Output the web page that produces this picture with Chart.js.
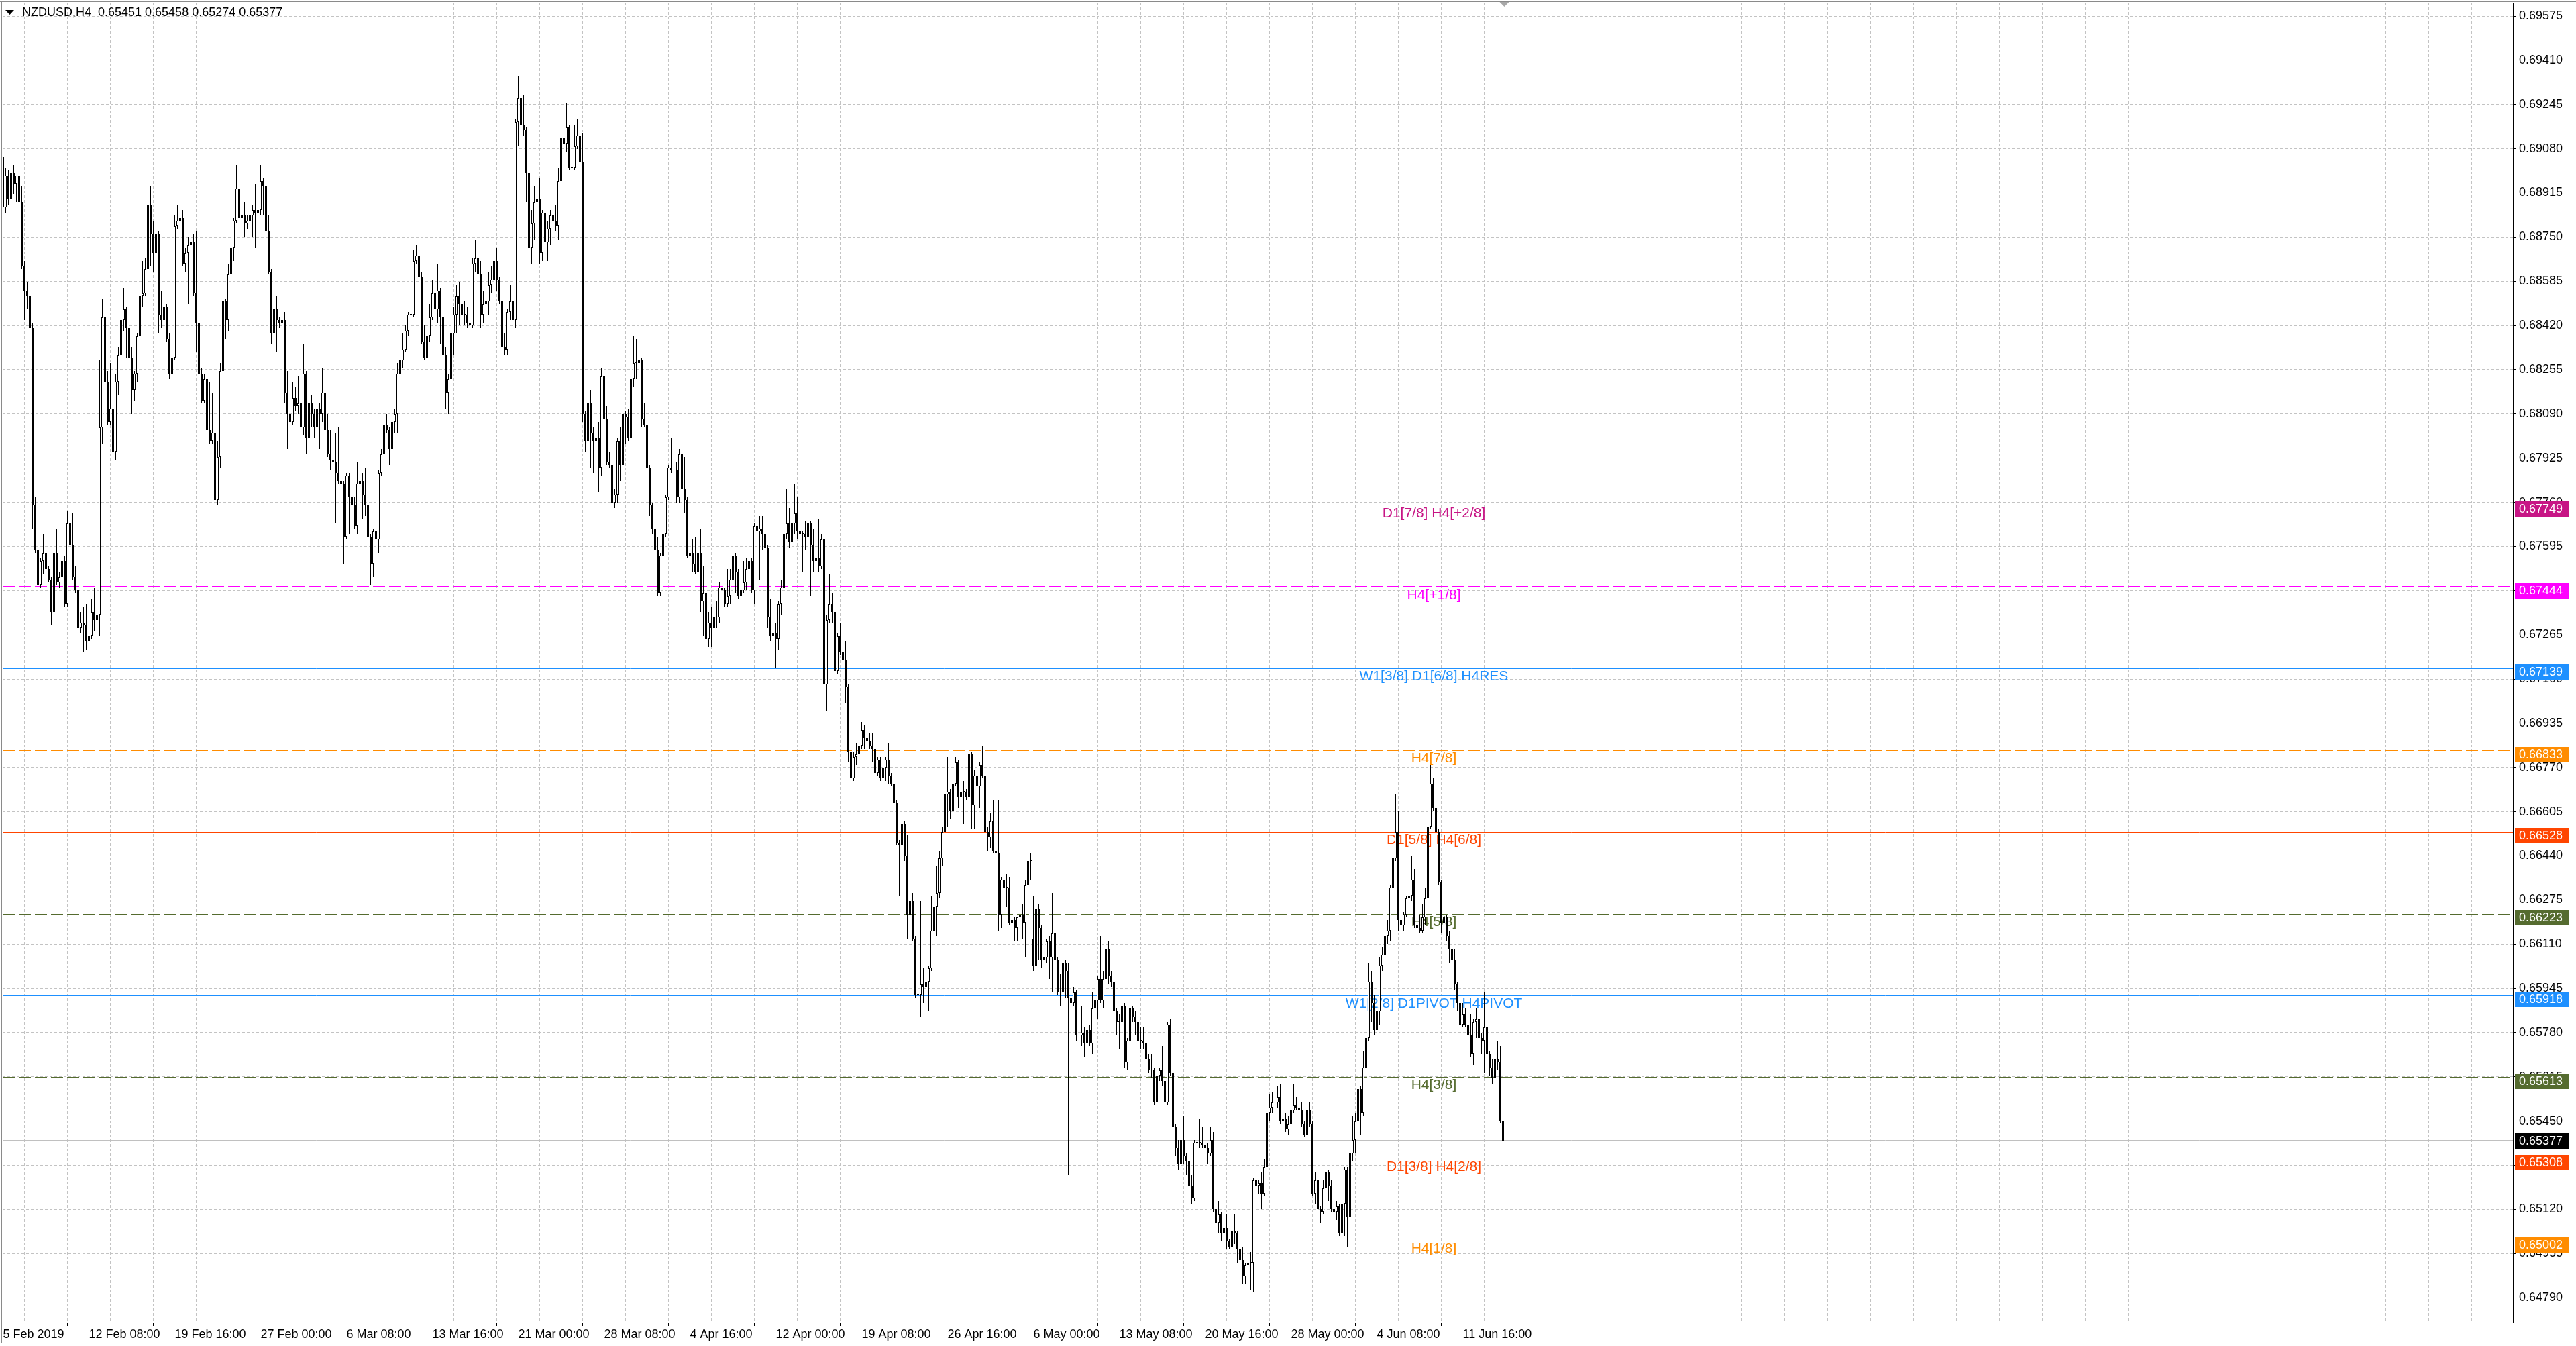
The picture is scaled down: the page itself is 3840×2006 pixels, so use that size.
<!DOCTYPE html>
<html>
<head>
<meta charset="utf-8">
<title>NZDUSD,H4</title>
<script src="https://cdn.jsdelivr.net/npm/chart.js@4.4.1/dist/chart.umd.min.js"></script>
<style>
  html, body { margin: 0; padding: 0; background: #fff; }
  #chart { display: block; width: 3840px; height: 2006px; }
</style>
</head>
<body>
<canvas id="chart" width="3840" height="2006"></canvas>
<script>
(() => {
  'use strict'

  const symbolName = 'NZDUSD'
  const periodName = 'H4'

  // H4 candles (first bar = 5 Feb 2019 00:00)
  const opens = [
    0.6905,0.6886,0.6898,0.6889,0.6899,0.6895,0.6898,0.6888,0.6864,0.6855,0.6853,0.6841,0.6775,0.6758,0.6745,0.6754,0.6757,0.6751,0.6747,0.6735,
    0.6757,0.6746,0.6748,0.6754,0.6738,0.6768,0.6760,0.6748,0.6743,0.6729,0.6731,0.6730,0.6724,0.6726,0.6735,0.6732,0.6734,0.6804,0.6845,0.6821,
    0.6806,0.6811,0.6795,0.6821,0.6831,0.6844,0.6848,0.6841,0.6830,0.6818,0.6824,0.6838,0.6853,0.6854,0.6863,0.6887,0.6876,0.6869,0.6876,0.6846,
    0.6844,0.6849,0.6837,0.6824,0.6830,0.6879,0.6881,0.6882,0.6865,0.6869,0.6872,0.6873,0.6854,0.6843,0.6824,0.6814,0.6822,0.6803,0.6799,0.6802,
    0.6777,0.6793,0.6825,0.6851,0.6844,0.6861,0.6871,0.6881,0.6893,0.6882,0.6883,0.6880,0.6881,0.6883,0.6885,0.6884,0.6885,0.6896,0.6894,0.6877,
    0.6862,0.6839,0.6848,0.6844,0.6843,0.6844,0.6817,0.6809,0.6806,0.6815,0.6812,0.6813,0.6804,0.6824,0.6800,0.6813,0.6809,0.6804,0.6811,0.6809,
    0.6817,0.6803,0.6794,0.6792,0.6791,0.6787,0.6784,0.6783,0.6763,0.6786,0.6778,0.6775,0.6767,0.6783,0.6784,0.6779,0.6775,0.6763,0.6753,0.6765,
    0.6762,0.6787,0.6794,0.6805,0.6803,0.6796,0.6806,0.6809,0.6824,0.6829,0.6833,0.6840,0.6846,0.6846,0.6866,0.6868,0.6860,0.6836,0.6830,0.6838,
    0.6845,0.6854,0.6848,0.6855,0.6845,0.6831,0.6817,0.6822,0.6839,0.6846,0.6853,0.6850,0.6846,0.6846,0.6843,0.6842,0.6865,0.6867,0.6861,0.6846,
    0.6850,0.6851,0.6857,0.6859,0.6866,0.6859,0.6851,0.6834,0.6833,0.6847,0.6851,0.6844,0.6918,0.6927,0.6917,0.6915,0.6899,0.6871,0.6880,0.6888,
    0.6889,0.6869,0.6884,0.6873,0.6878,0.6883,0.6881,0.6879,0.6896,0.6912,0.6910,0.6916,0.6901,0.6901,0.6909,0.6913,0.6903,0.6809,0.6799,0.6813,
    0.6802,0.6799,0.6800,0.6789,0.6823,0.6807,0.6791,0.6790,0.6776,0.6779,0.6799,0.6790,0.6809,0.6808,0.6800,0.6822,0.6828,0.6828,0.6829,0.6807,
    0.6805,0.6789,0.6775,0.6766,0.6758,0.6742,0.6756,0.6764,0.6778,0.6789,0.6788,0.6788,0.6778,0.6794,0.6781,0.6777,0.6756,0.6757,0.6753,0.6750,
    0.6757,0.6739,0.6742,0.6725,0.6731,0.6729,0.6733,0.6733,0.6744,0.6743,0.6738,0.6741,0.6747,0.6756,0.6750,0.6741,0.6743,0.6746,0.6751,0.6754,
    0.6743,0.6767,0.6765,0.6766,0.6764,0.6759,0.6733,0.6726,0.6727,0.6725,0.6738,0.6744,0.6764,0.6768,0.6761,0.6768,0.6772,0.6765,0.6764,0.6764,
    0.6763,0.6768,0.6760,0.6754,0.6755,0.6752,0.6762,0.6708,0.6732,0.6738,0.6735,0.6713,0.6726,0.6720,0.6717,0.6707,0.6683,0.6673,0.6681,0.6682,
    0.6685,0.6691,0.6688,0.6687,0.6685,0.6684,0.6675,0.6680,0.6673,0.6677,0.6680,0.6674,0.6671,0.6664,0.6649,0.6648,0.6656,0.6644,0.6622,0.6627,
    0.6613,0.6592,0.6592,0.6596,0.6595,0.6597,0.6602,0.6616,0.6625,0.6630,0.6643,0.6653,0.6667,0.6668,0.6661,0.6671,0.6679,0.6666,0.6668,0.6668,
    0.6666,0.6682,0.6663,0.6674,0.6670,0.6678,0.6674,0.6653,0.6651,0.6657,0.6646,0.6645,0.6622,0.6635,0.6632,0.6632,0.6619,0.6620,0.6617,0.6621,
    0.6622,0.6619,0.6633,0.6642,0.6613,0.6603,0.6624,0.6617,0.6605,0.6606,0.6612,0.6606,0.6615,0.6605,0.6593,0.6593,0.6604,0.6601,0.6591,0.6589,
    0.6593,0.6577,0.6577,0.6578,0.6574,0.6579,0.6574,0.6587,0.6590,0.6598,0.6590,0.6598,0.6609,0.6599,0.6597,0.6586,0.6582,0.6582,0.6588,0.6567,
    0.6575,0.6587,0.6584,0.6582,0.6575,0.6575,0.6574,0.6568,0.6564,0.6564,0.6552,0.6562,0.6564,0.6560,0.6552,0.6581,0.6563,0.6543,0.6535,0.6529,
    0.6538,0.6532,0.6530,0.6521,0.6516,0.6537,0.6537,0.6537,0.6536,0.6535,0.6533,0.6538,0.6512,0.6507,0.6510,0.6503,0.6505,0.6500,0.6498,0.6504,
    0.6503,0.6497,0.6493,0.6487,0.6491,0.6492,0.6492,0.6523,0.6521,0.6522,0.6518,0.6528,0.6548,0.6550,0.6552,0.6552,0.6554,0.6545,0.6546,0.6542,
    0.6544,0.6549,0.6551,0.6550,0.6549,0.6544,0.6540,0.6549,0.6544,0.6518,0.6523,0.6512,0.6511,0.6520,0.6526,0.6521,0.6512,0.6511,0.6513,0.6503,
    0.6514,0.6527,0.6509,0.6533,0.6538,0.6545,0.6557,0.6548,0.6565,0.6576,0.6597,0.6589,0.6579,0.6586,0.6603,0.6607,0.6614,0.6616,0.6632,0.6643,
    0.6653,0.6620,0.6618,0.6622,0.6628,0.6629,0.6635,0.6618,0.6617,0.6616,0.6621,0.6628,0.6655,0.6671,0.6662,0.6653,0.6634,0.6619,0.6621,0.6614,
    0.6609,0.6605,0.6596,0.6589,0.6581,0.6585,0.6581,0.6577,0.6570,0.6582,0.6583,0.6576,0.6575,0.6580,0.6570,0.6565,0.6561,0.6568,0.6567,0.65451
  ]
  const highs = [
    0.6906,0.6901,0.6900,0.6906,0.6902,0.6898,0.6905,0.6894,0.6866,0.6858,0.6858,0.6843,0.6778,0.6759,0.6755,0.6764,0.6772,0.6752,0.6748,0.6758,
    0.6766,0.6750,0.6758,0.6756,0.6773,0.6772,0.6772,0.6752,0.6744,0.6735,0.6737,0.6738,0.6730,0.6740,0.6744,0.6738,0.6829,0.6852,0.6846,0.6825,
    0.6828,0.6813,0.6824,0.6834,0.6845,0.6856,0.6849,0.6842,0.6834,0.6825,0.6839,0.6860,0.6866,0.6867,0.6888,0.6894,0.6881,0.6877,0.6877,0.6855,
    0.6861,0.6850,0.6839,0.6832,0.6883,0.6887,0.6885,0.6885,0.6871,0.6875,0.6875,0.6876,0.6877,0.6844,0.6826,0.6824,0.6824,0.6821,0.6817,0.6810,
    0.6799,0.6828,0.6854,0.6852,0.6865,0.6881,0.6882,0.6902,0.6897,0.6888,0.6888,0.6883,0.6890,0.6887,0.6895,0.6903,0.6902,0.6897,0.6896,0.6883,
    0.6863,0.6850,0.6853,0.6845,0.6852,0.6847,0.6825,0.6818,0.6821,0.6819,0.6823,0.6839,0.6835,0.6825,0.6828,0.6816,0.6811,0.6812,0.6813,0.6826,
    0.6826,0.6809,0.6803,0.6794,0.6802,0.6804,0.6786,0.6784,0.6787,0.6787,0.6781,0.6778,0.6791,0.6789,0.6787,0.6789,0.6776,0.6764,0.6766,0.6779,
    0.6788,0.6796,0.6809,0.6809,0.6804,0.6814,0.6811,0.6828,0.6835,0.6839,0.6842,0.6847,0.6849,0.6870,0.6872,0.6872,0.6862,0.6842,0.6846,0.6850,
    0.6859,0.6858,0.6865,0.6856,0.6846,0.6834,0.6824,0.6840,0.6849,0.6857,0.6858,0.6858,0.6851,0.6849,0.6852,0.6867,0.6874,0.6871,0.6866,0.6855,
    0.6859,0.6862,0.6864,0.6870,0.6871,0.6860,0.6856,0.6839,0.6848,0.6857,0.6856,0.6919,0.6935,0.6938,0.6928,0.6916,0.6900,0.6885,0.6894,0.6892,
    0.6897,0.6885,0.6893,0.6881,0.6885,0.6884,0.6887,0.6901,0.6918,0.6918,0.6925,0.6917,0.6910,0.6917,0.6919,0.6919,0.6914,0.6810,0.6818,0.6818,
    0.6804,0.6808,0.6806,0.6826,0.6828,0.6812,0.6795,0.6794,0.6781,0.6800,0.6804,0.6812,0.6810,0.6811,0.6825,0.6838,0.6837,0.6836,0.6830,0.6813,
    0.6806,0.6790,0.6776,0.6767,0.6763,0.6757,0.6769,0.6779,0.6790,0.6800,0.6796,0.6791,0.6796,0.6798,0.6793,0.6778,0.6763,0.6762,0.6763,0.6758,
    0.6766,0.6752,0.6746,0.6735,0.6737,0.6737,0.6739,0.6746,0.6754,0.6744,0.6751,0.6751,0.6758,0.6757,0.6751,0.6749,0.6754,0.6755,0.6755,0.6755,
    0.6768,0.6774,0.6771,0.6771,0.6768,0.6760,0.6740,0.6732,0.6731,0.6739,0.6747,0.6765,0.6781,0.6774,0.6773,0.6783,0.6778,0.6768,0.6765,0.6769,
    0.6769,0.6769,0.6766,0.6758,0.6770,0.6764,0.6776,0.6734,0.6749,0.6742,0.6736,0.6727,0.6731,0.6724,0.6724,0.6708,0.6690,0.6683,0.6686,0.6690,
    0.6694,0.6693,0.6689,0.6690,0.6690,0.6685,0.6681,0.6681,0.6678,0.6681,0.6686,0.6675,0.6672,0.6665,0.6650,0.6659,0.6657,0.6652,0.6630,0.6630,
    0.6614,0.6603,0.6627,0.6602,0.6600,0.6603,0.6629,0.6628,0.6640,0.6646,0.6655,0.6671,0.6681,0.6669,0.6672,0.6681,0.6680,0.6672,0.6672,0.6669,
    0.6683,0.6683,0.6676,0.6678,0.6679,0.6685,0.6677,0.6655,0.6660,0.6665,0.6647,0.6665,0.6636,0.6640,0.6637,0.6636,0.6623,0.6621,0.6621,0.6626,
    0.6626,0.6635,0.6653,0.6645,0.6629,0.6629,0.6626,0.6618,0.6614,0.6613,0.6614,0.6630,0.6622,0.6606,0.6600,0.6605,0.6605,0.6604,0.6598,0.6595,
    0.6594,0.6579,0.6588,0.6580,0.6582,0.6581,0.6593,0.6598,0.6599,0.6614,0.6601,0.6610,0.6612,0.6601,0.6598,0.6587,0.6585,0.6589,0.6589,0.6576,
    0.6588,0.6588,0.6586,0.6583,0.6580,0.6580,0.6578,0.6570,0.6570,0.6565,0.6567,0.6565,0.6573,0.6561,0.6582,0.6583,0.6565,0.6544,0.6538,0.6540,
    0.6547,0.6533,0.6533,0.6525,0.6538,0.6541,0.6546,0.6543,0.6545,0.6537,0.6543,0.6541,0.6513,0.6515,0.6511,0.6506,0.6510,0.6501,0.6507,0.6510,
    0.6504,0.6498,0.6498,0.6492,0.6496,0.6496,0.6524,0.6526,0.6523,0.6526,0.6531,0.6550,0.6555,0.6556,0.6559,0.6558,0.6559,0.6547,0.6548,0.6547,
    0.6552,0.6559,0.6554,0.6552,0.6552,0.6545,0.6552,0.6552,0.6545,0.6526,0.6525,0.6513,0.6523,0.6527,0.6527,0.6523,0.6514,0.6515,0.6514,0.6515,
    0.6528,0.6528,0.6536,0.6547,0.6548,0.6558,0.6558,0.6571,0.6578,0.6604,0.6601,0.6592,0.6598,0.6606,0.6610,0.6619,0.6620,0.6633,0.6649,0.6667,
    0.6661,0.6622,0.6623,0.6629,0.6632,0.6644,0.6639,0.6626,0.6622,0.6626,0.6632,0.6662,0.6678,0.6673,0.6663,0.6654,0.6635,0.6628,0.6622,0.6616,
    0.6611,0.6609,0.6597,0.6591,0.6589,0.6587,0.6582,0.6585,0.6583,0.6587,0.6584,0.6578,0.6593,0.6591,0.6571,0.6568,0.6569,0.6575,0.6573,0.65458
  ]
  const lows = [
    0.6872,0.6884,0.6887,0.6887,0.6891,0.6888,0.6881,0.6863,0.6844,0.6848,0.6835,0.6766,0.6757,0.6744,0.6744,0.6749,0.6749,0.6746,0.6730,0.6733,
    0.6745,0.6744,0.6741,0.6737,0.6737,0.6758,0.6747,0.6742,0.6727,0.6727,0.6720,0.6721,0.6723,0.6725,0.6728,0.6730,0.6726,0.6798,0.6819,0.6805,
    0.6805,0.6791,0.6792,0.6816,0.6819,0.6840,0.6830,0.6829,0.6809,0.6814,0.6821,0.6837,0.6849,0.6853,0.6854,0.6864,0.6862,0.6868,0.6839,0.6841,
    0.6839,0.6836,0.6822,0.6815,0.6829,0.6878,0.6870,0.6864,0.6862,0.6850,0.6870,0.6853,0.6832,0.6821,0.6813,0.6813,0.6797,0.6798,0.6798,0.6757,
    0.6775,0.6789,0.6824,0.6837,0.6840,0.6860,0.6866,0.6880,0.6881,0.6879,0.6875,0.6878,0.6871,0.6875,0.6871,0.6882,0.6883,0.6883,0.6872,0.6861,
    0.6835,0.6835,0.6832,0.6841,0.6838,0.6813,0.6796,0.6805,0.6805,0.6810,0.6809,0.6802,0.6801,0.6794,0.6799,0.6804,0.6800,0.6801,0.6796,0.6806,
    0.6801,0.6793,0.6788,0.6788,0.6768,0.6783,0.6781,0.6753,0.6762,0.6764,0.6774,0.6766,0.6764,0.6778,0.6770,0.6771,0.6762,0.6745,0.6748,0.6754,
    0.6757,0.6786,0.6793,0.6802,0.6790,0.6790,0.6802,0.6802,0.6820,0.6826,0.6832,0.6838,0.6844,0.6845,0.6865,0.6850,0.6835,0.6829,0.6829,0.6836,
    0.6844,0.6846,0.6843,0.6835,0.6826,0.6811,0.6809,0.6816,0.6831,0.6839,0.6842,0.6843,0.6842,0.6841,0.6839,0.6841,0.6862,0.6859,0.6841,0.6843,
    0.6841,0.6846,0.6854,0.6857,0.6855,0.6850,0.6827,0.6831,0.6831,0.6844,0.6841,0.6841,0.6909,0.6913,0.6913,0.6888,0.6857,0.6865,0.6874,0.6876,
    0.6865,0.6866,0.6869,0.6866,0.6872,0.6873,0.6877,0.6874,0.6895,0.6909,0.6907,0.6900,0.6894,0.6900,0.6908,0.6902,0.6806,0.6795,0.6794,0.6789,
    0.6787,0.6794,0.6780,0.6786,0.6806,0.6790,0.6789,0.6775,0.6774,0.6776,0.6784,0.6788,0.6798,0.6799,0.6799,0.6819,0.6822,0.6821,0.6804,0.6804,
    0.6775,0.6771,0.6764,0.6756,0.6741,0.6741,0.6755,0.6763,0.6777,0.6787,0.6780,0.6776,0.6776,0.6780,0.6772,0.6755,0.6748,0.6750,0.6749,0.6749,
    0.6735,0.6726,0.6718,0.6722,0.6722,0.6725,0.6729,0.6731,0.6738,0.6737,0.6737,0.6738,0.6740,0.6742,0.6740,0.6737,0.6742,0.6743,0.6743,0.6742,
    0.6738,0.6758,0.6747,0.6758,0.6758,0.6729,0.6724,0.6725,0.6714,0.6721,0.6734,0.6741,0.6762,0.6759,0.6760,0.6764,0.6762,0.6757,0.6750,0.6758,
    0.6761,0.6741,0.6750,0.6747,0.6750,0.6751,0.6666,0.6698,0.6731,0.6731,0.6708,0.6712,0.6719,0.6712,0.6701,0.6679,0.6672,0.6672,0.6678,0.6681,
    0.6684,0.6684,0.6685,0.6684,0.6679,0.6673,0.6674,0.6672,0.6672,0.6672,0.6671,0.6670,0.6656,0.6648,0.6629,0.6644,0.6642,0.6613,0.6616,0.6612,
    0.6591,0.6581,0.6584,0.6589,0.6580,0.6586,0.6601,0.6614,0.6614,0.6628,0.6640,0.6633,0.6655,0.6658,0.6655,0.6670,0.6662,0.6665,0.6656,0.6665,
    0.6662,0.6654,0.6654,0.6669,0.6662,0.6673,0.6628,0.6646,0.6647,0.6645,0.6644,0.6616,0.6617,0.6628,0.6625,0.6618,0.6608,0.6612,0.6612,0.6608,
    0.6613,0.6606,0.6631,0.6635,0.6601,0.6602,0.6605,0.6602,0.6602,0.6604,0.6598,0.6593,0.6604,0.6592,0.6588,0.6592,0.6591,0.6525,0.6587,0.6588,
    0.6575,0.6576,0.6573,0.6569,0.6571,0.6573,0.6570,0.6586,0.6583,0.6589,0.6587,0.6596,0.6596,0.6595,0.6585,0.6577,0.6572,0.6575,0.6565,0.6564,
    0.6564,0.6582,0.6577,0.6572,0.6572,0.6572,0.6567,0.6563,0.6561,0.6551,0.6551,0.6560,0.6558,0.6545,0.6551,0.6562,0.6542,0.6532,0.6527,0.6528,
    0.6529,0.6525,0.6520,0.6514,0.6515,0.6536,0.6535,0.6535,0.6534,0.6529,0.6532,0.6511,0.6503,0.6503,0.6500,0.6499,0.6497,0.6497,0.6494,0.6499,
    0.6492,0.6492,0.6484,0.6484,0.6490,0.6482,0.6481,0.6518,0.6518,0.6512,0.6517,0.6527,0.6545,0.6548,0.6549,0.6550,0.6544,0.6544,0.6541,0.6540,
    0.6543,0.6548,0.6549,0.6548,0.6543,0.6539,0.6539,0.6543,0.6517,0.6514,0.6505,0.6507,0.6510,0.6512,0.6515,0.6511,0.6495,0.6508,0.6502,0.6502,
    0.6502,0.6498,0.6508,0.6530,0.6533,0.6541,0.6540,0.6547,0.6556,0.6575,0.6582,0.6577,0.6575,0.6581,0.6601,0.6606,0.6611,0.6612,0.6631,0.6642,
    0.6616,0.6611,0.6616,0.6621,0.6620,0.6627,0.6617,0.6616,0.6615,0.6615,0.6618,0.6627,0.6654,0.6661,0.6652,0.6633,0.6615,0.6617,0.6612,0.6604,
    0.6602,0.6594,0.6586,0.6569,0.6580,0.6580,0.6575,0.6569,0.6566,0.6576,0.6571,0.6570,0.6563,0.6567,0.6562,0.6559,0.6558,0.6564,0.65445,0.65274
  ]
  const closes = [
    0.6886,0.6898,0.6889,0.6899,0.6895,0.6898,0.6888,0.6864,0.6855,0.6853,0.6841,0.6775,0.6758,0.6745,0.6754,0.6757,0.6751,0.6747,0.6735,0.6757,
    0.6746,0.6748,0.6754,0.6738,0.6768,0.6760,0.6748,0.6743,0.6729,0.6731,0.6730,0.6724,0.6726,0.6735,0.6732,0.6734,0.6804,0.6845,0.6821,0.6806,
    0.6811,0.6795,0.6821,0.6831,0.6844,0.6848,0.6841,0.6830,0.6818,0.6824,0.6838,0.6853,0.6854,0.6863,0.6887,0.6876,0.6869,0.6876,0.6846,0.6844,
    0.6849,0.6837,0.6824,0.6830,0.6879,0.6881,0.6882,0.6865,0.6869,0.6872,0.6873,0.6854,0.6843,0.6824,0.6814,0.6822,0.6803,0.6799,0.6802,0.6777,
    0.6793,0.6825,0.6851,0.6844,0.6861,0.6871,0.6881,0.6893,0.6882,0.6883,0.6880,0.6881,0.6883,0.6885,0.6884,0.6885,0.6896,0.6894,0.6877,0.6862,
    0.6839,0.6848,0.6844,0.6843,0.6844,0.6817,0.6809,0.6806,0.6815,0.6812,0.6813,0.6804,0.6824,0.6800,0.6813,0.6809,0.6804,0.6811,0.6809,0.6817,
    0.6803,0.6794,0.6792,0.6791,0.6787,0.6784,0.6783,0.6763,0.6786,0.6778,0.6775,0.6767,0.6783,0.6784,0.6779,0.6775,0.6763,0.6753,0.6765,0.6762,
    0.6787,0.6794,0.6805,0.6803,0.6796,0.6806,0.6809,0.6824,0.6829,0.6833,0.6840,0.6846,0.6846,0.6866,0.6868,0.6860,0.6836,0.6830,0.6838,0.6845,
    0.6854,0.6848,0.6855,0.6845,0.6831,0.6817,0.6822,0.6839,0.6846,0.6853,0.6850,0.6846,0.6846,0.6843,0.6842,0.6865,0.6867,0.6861,0.6846,0.6850,
    0.6851,0.6857,0.6859,0.6866,0.6859,0.6851,0.6834,0.6833,0.6847,0.6851,0.6844,0.6918,0.6927,0.6917,0.6915,0.6899,0.6871,0.6880,0.6888,0.6889,
    0.6869,0.6884,0.6873,0.6878,0.6883,0.6881,0.6879,0.6896,0.6912,0.6910,0.6916,0.6901,0.6901,0.6909,0.6913,0.6903,0.6809,0.6799,0.6813,0.6802,
    0.6799,0.6800,0.6789,0.6823,0.6807,0.6791,0.6790,0.6776,0.6779,0.6799,0.6790,0.6809,0.6808,0.6800,0.6822,0.6828,0.6828,0.6829,0.6807,0.6805,
    0.6789,0.6775,0.6766,0.6758,0.6742,0.6756,0.6764,0.6778,0.6789,0.6788,0.6788,0.6778,0.6794,0.6781,0.6777,0.6756,0.6757,0.6753,0.6750,0.6757,
    0.6739,0.6742,0.6725,0.6731,0.6729,0.6733,0.6733,0.6744,0.6743,0.6738,0.6741,0.6747,0.6756,0.6750,0.6741,0.6743,0.6746,0.6751,0.6754,0.6743,
    0.6767,0.6765,0.6766,0.6764,0.6759,0.6733,0.6726,0.6727,0.6725,0.6738,0.6744,0.6764,0.6768,0.6761,0.6768,0.6772,0.6765,0.6764,0.6764,0.6763,
    0.6768,0.6760,0.6754,0.6755,0.6752,0.6762,0.6708,0.6732,0.6738,0.6735,0.6713,0.6726,0.6720,0.6717,0.6707,0.6683,0.6673,0.6681,0.6682,0.6685,
    0.6691,0.6688,0.6687,0.6685,0.6684,0.6675,0.6680,0.6673,0.6677,0.6680,0.6674,0.6671,0.6664,0.6649,0.6648,0.6656,0.6644,0.6622,0.6627,0.6613,
    0.6592,0.6592,0.6596,0.6595,0.6597,0.6602,0.6616,0.6625,0.6630,0.6643,0.6653,0.6667,0.6668,0.6661,0.6671,0.6679,0.6666,0.6668,0.6668,0.6666,
    0.6682,0.6663,0.6674,0.6670,0.6678,0.6674,0.6653,0.6651,0.6657,0.6646,0.6645,0.6622,0.6635,0.6632,0.6632,0.6619,0.6620,0.6617,0.6621,0.6622,
    0.6619,0.6633,0.6642,0.6642,0.6603,0.6624,0.6617,0.6605,0.6606,0.6612,0.6606,0.6615,0.6605,0.6593,0.6593,0.6604,0.6601,0.6591,0.6589,0.6593,
    0.6577,0.6577,0.6578,0.6574,0.6579,0.6574,0.6587,0.6590,0.6598,0.6590,0.6598,0.6609,0.6599,0.6597,0.6586,0.6582,0.6582,0.6588,0.6567,0.6575,
    0.6587,0.6584,0.6582,0.6575,0.6575,0.6574,0.6568,0.6564,0.6564,0.6552,0.6562,0.6564,0.6560,0.6552,0.6581,0.6563,0.6543,0.6535,0.6529,0.6538,
    0.6532,0.6530,0.6521,0.6516,0.6537,0.6537,0.6537,0.6536,0.6535,0.6533,0.6538,0.6512,0.6507,0.6510,0.6503,0.6505,0.6500,0.6498,0.6504,0.6503,
    0.6497,0.6493,0.6487,0.6491,0.6492,0.6492,0.6523,0.6521,0.6522,0.6518,0.6528,0.6548,0.6550,0.6552,0.6552,0.6554,0.6545,0.6546,0.6542,0.6544,
    0.6549,0.6551,0.6550,0.6549,0.6544,0.6540,0.6549,0.6544,0.6518,0.6523,0.6512,0.6511,0.6520,0.6526,0.6521,0.6512,0.6511,0.6513,0.6503,0.6514,
    0.6527,0.6509,0.6533,0.6538,0.6545,0.6557,0.6548,0.6565,0.6576,0.6597,0.6589,0.6579,0.6586,0.6603,0.6607,0.6614,0.6616,0.6632,0.6643,0.6653,
    0.6620,0.6618,0.6622,0.6628,0.6629,0.6635,0.6618,0.6617,0.6616,0.6621,0.6628,0.6655,0.6671,0.6662,0.6653,0.6634,0.6619,0.6621,0.6614,0.6609,
    0.6605,0.6596,0.6589,0.6581,0.6585,0.6581,0.6577,0.6570,0.6582,0.6583,0.6576,0.6575,0.6580,0.6570,0.6565,0.6561,0.6568,0.6567,0.65451,0.65377
  ]

  // time axis labels, one every 32 bars
  const timeLabels = [
    '5 Feb 2019', '12 Feb 08:00', '19 Feb 16:00', '27 Feb 00:00', '6 Mar 08:00', '13 Mar 16:00',
    '21 Mar 00:00', '28 Mar 08:00', '4 Apr 16:00', '12 Apr 00:00', '19 Apr 08:00', '26 Apr 16:00',
    '6 May 00:00', '13 May 08:00', '20 May 16:00', '28 May 00:00', '4 Jun 08:00', '11 Jun 16:00'
  ]

  // price axis labels
  const priceTicks = [
    0.69575, 0.69410, 0.69245, 0.69080, 0.68915, 0.68750, 0.68585, 0.68420, 0.68255, 0.68090,
    0.67925, 0.67760, 0.67595, 0.67430, 0.67265, 0.67100, 0.66935, 0.66770, 0.66605, 0.66440,
    0.66275, 0.66110, 0.65945, 0.65780, 0.65615, 0.65450, 0.65285, 0.65120, 0.64955, 0.64790
  ]

  // indicator levels
  const levelPrices = [0.67749, 0.67444, 0.67139, 0.66833, 0.66528, 0.66223, 0.65918, 0.65613, 0.65308, 0.65002]
  const levelNames = [
    'D1[7/8] H4[+2/8]', 'H4[+1/8]', 'W1[3/8] D1[6/8] H4RES', 'H4[7/8]', 'D1[5/8] H4[6/8]',
    'H4[5/8]', 'W1[2/8] D1PIVOT H4PIVOT', 'H4[3/8]', 'D1[3/8] H4[2/8]', 'H4[1/8]'
  ]

  // styles
  const levelColors = ['#C71585', '#FF00FF', '#1E90FF', '#FF8C00', '#FF4500', '#556B2F', '#1E90FF', '#556B2F', '#FF4500', '#FF8C00']
  const levelDashed = [false, true, false, true, false, true, false, true, false, true]
  const gridColor = '#c3c3c3'
  const axisFont = '"Liberation Sans", Arial, sans-serif'

  // view window (4 px per bar, empty shift area on the right)
  const xMin = -0.125
  const xMax = 935.375
  const yMin = 0.646978
  const yMax = 0.696251
  const labelBar = 533.25

  const n = closes.length
  const lastPrice = closes[n - 1]

  const bodyData = opens.map((o, i) => ({ x: i, y: [o, closes[i]] }))
  const wickData = lows.map((l, i) => ({ x: i, y: [l, highs[i]] }))

  const gridSteps = []
  for (let v = 0; v <= xMax; v += 16) gridSteps.push(v)

  const labelFor = v => (v % 32 === 0 && v / 32 < timeLabels.length) ? timeLabels[v / 32] : ''

  const levelSets = levelPrices.map((p, k) => ({
    type: 'line',
    data: [{ x: xMin, y: p }, { x: xMax, y: p }],
    borderColor: levelColors[k],
    borderWidth: 1,
    borderDash: levelDashed[k] ? [18, 6] : [],
    pointRadius: 0,
    order: 3
  }))

  // snap the drawn elements to whole pixels so the 1px lines stay sharp
  const pixelSnap = {
    id: 'pixelSnap',
    afterDatasetsUpdate(chart) {
      chart.data.datasets.forEach((ds, di) => {
        const els = chart.getDatasetMeta(di).data
        if (ds.type === 'line') {
          els.forEach(pt => { pt.y = Math.floor(pt.y) + 0.5 })
        } else {
          els.forEach(el => {
            const a = Math.round(el.y)
            let b = Math.round(el.base)
            if (a === b) b = a + 1
            el.y = a
            el.base = b
          })
        }
      })
    }
  }

  // axis boxes have fixed sizes and must not push the plot area around
  const noPad = s => {
    s.paddingTop = 0
    s.paddingBottom = 0
    s.paddingLeft = 0
    s.paddingRight = 0
  }

  const overlay = {
    id: 'overlay',
    beforeDatasetsDraw(chart) {
      const { ctx, scales: { x, y } } = chart
      ctx.save()
      ctx.font = '21px ' + axisFont
      ctx.textAlign = 'center'
      ctx.textBaseline = 'middle'
      const cx = x.getPixelForValue(labelBar)
      levelPrices.forEach((p, k) => {
        ctx.fillStyle = levelColors[k]
        ctx.fillText(levelNames[k], cx, y.getPixelForValue(p) + 12)
      })
      ctx.restore()
    },
    afterDraw(chart) {
      const { ctx, chartArea, scales: { y } } = chart
      ctx.save()
      // price tags on the right axis
      ctx.font = '18px ' + axisFont
      ctx.textBaseline = 'middle'
      ctx.textAlign = 'left'
      const drawTag = (p, color, dy) => {
        const cy = Math.round(y.getPixelForValue(p)) + dy
        ctx.fillStyle = color
        ctx.fillRect(chartArea.right + 3, cy - 11, 80, 23)
        ctx.fillStyle = '#fff'
        ctx.fillText(p.toFixed(5), chartArea.right + 9, cy + 1)
      }
      levelPrices.forEach((p, k) => drawTag(p, levelColors[k], 5))
      drawTag(lastPrice, '#000', 0)

      // window frame
      ctx.strokeStyle = '#8a8a8a'
      ctx.lineWidth = 1
      ctx.beginPath()
      ctx.moveTo(0, 2.5); ctx.lineTo(3840, 2.5)
      ctx.moveTo(2.5, 2); ctx.lineTo(2.5, 2002)
      ctx.moveTo(0, 2001.5); ctx.lineTo(3840, 2001.5)
      ctx.stroke()
      ctx.strokeStyle = '#d0d0d0'
      ctx.beginPath()
      ctx.moveTo(3838.5, 2); ctx.lineTo(3838.5, 2002)
      ctx.stroke()

      // chart shift marker
      const sx = chart.scales.x.getPixelForValue(n - 1) + 2
      ctx.fillStyle = '#a8a8a8'
      ctx.beginPath()
      ctx.moveTo(sx - 7, 3); ctx.lineTo(sx + 7, 3); ctx.lineTo(sx, 10); ctx.closePath()
      ctx.fill()

      // header
      ctx.fillStyle = '#000'
      ctx.beginPath()
      ctx.moveTo(8, 15); ctx.lineTo(21, 15); ctx.lineTo(14.5, 22); ctx.closePath()
      ctx.fill()
      ctx.font = '18px ' + axisFont
      const f = v => v.toFixed(5)
      ctx.fillText(symbolName + ',' + periodName + '  ' + f(opens[n - 1]) + ' ' + f(highs[n - 1]) + ' ' +
        f(lows[n - 1]) + ' ' + f(closes[n - 1]), 33, 19)
      ctx.restore()
    }
  }

  const ctx = document.getElementById('chart')
  // eslint-disable-next-line no-unused-vars
  const priceChart = new Chart(ctx, {
    type: 'bar',
    data: {
      datasets: [
        {
          label: 'body',
          data: bodyData,
          grouped: false,
          barThickness: 3,
          maxBarThickness: 3,
          minBarLength: 1,
          backgroundColor: c => (c.raw && c.raw.y[1] >= c.raw.y[0]) ? '#ffffff' : '#000000',
          borderColor: '#000000',
          borderWidth: 1,
          borderSkipped: false,
          inflateAmount: 0,
          order: 0
        },
        {
          label: 'wick',
          data: wickData,
          grouped: false,
          barThickness: 1,
          maxBarThickness: 1,
          backgroundColor: '#000000',
          borderWidth: 0,
          inflateAmount: 0,
          order: 1
        },
        ...levelSets,
        {
          type: 'line',
          data: [{ x: xMin, y: lastPrice }, { x: xMax, y: lastPrice }],
          borderColor: '#c0c0c0',
          borderWidth: 1,
          pointRadius: 0,
          order: 4
        }
      ]
    },
    options: {
      responsive: false,
      animation: false,
      devicePixelRatio: 1,
      events: [],
      layout: { autoPadding: false, padding: { left: 4, top: 4, right: 0, bottom: 0 } },
      plugins: {
        legend: { display: false },
        tooltip: { enabled: false }
      },
      scales: {
        x: {
          type: 'linear',
          min: xMin,
          max: xMax,
          offset: false,
          afterBuildTicks: s => { s.ticks = gridSteps.map(v => ({ value: v })) },
          afterFit: s => { s.height = 35; noPad(s) },
          grid: {
            color: gridColor,
            lineWidth: 1,
            drawTicks: true,
            tickLength: 5,
            tickColor: c => (c.tick && labelFor(c.tick.value)) ? '#000' : 'rgba(0,0,0,0)'
          },
          border: { display: true, color: '#000', width: 1, dash: [4, 3] },
          ticks: {
            autoSkip: false,
            maxRotation: 0,
            minRotation: 0,
            align: 'start',
            padding: 2,
            color: '#000',
            font: { family: axisFont, size: 18 },
            callback: v => labelFor(v)
          }
        },
        y: {
          type: 'linear',
          position: 'right',
          min: yMin,
          max: yMax,
          afterBuildTicks: s => { s.ticks = priceTicks.map(v => ({ value: v })) },
          afterFit: s => { s.width = 94; noPad(s) },
          grid: { color: gridColor, lineWidth: 1, tickLength: 5, tickColor: '#000' },
          border: { display: true, color: '#000', width: 1, dash: [4, 3] },
          ticks: {
            autoSkip: false,
            padding: 4,
            color: '#000',
            font: { family: axisFont, size: 18 },
            callback: v => v.toFixed(5)
          }
        }
      }
    },
    plugins: [pixelSnap, overlay]
  })
})()
</script>
</body>
</html>
